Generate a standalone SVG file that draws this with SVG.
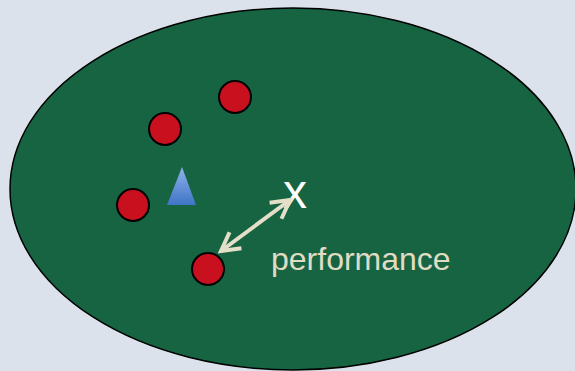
<svg xmlns="http://www.w3.org/2000/svg" width="575" height="371" viewBox="0 0 575 371">
<style>
.pt{fill:#c8101e;stroke:#000;stroke-width:2}
.lbl{font-family:"Liberation Sans",Arial,sans-serif}
</style>
<defs>
<linearGradient id="tg" x1="0" y1="0" x2="0" y2="1">
<stop offset="0" stop-color="#8fb4ea"/>
<stop offset="1" stop-color="#3f74c6"/>
</linearGradient>
<marker id="ah" viewBox="0 0 12 12" refX="10" refY="6" markerWidth="6" markerHeight="6" orient="auto-start-reverse" markerUnits="strokeWidth">
<path d="M1,1 L10,6 L1,11" fill="none" stroke="#e4dfc8" stroke-width="2"/>
</marker>
</defs>
<rect width="575" height="371" fill="#dce2ec"/>
<g id="region"><ellipse cx="293" cy="189" rx="283" ry="181" fill="#176443" stroke="#000" stroke-width="1.5"/></g>
<g id="p1"><circle class="pt" cx="235" cy="97" r="16"/></g>
<g id="p2"><circle class="pt" cx="165" cy="129" r="16"/></g>
<g id="p3"><circle class="pt" cx="133" cy="205" r="16"/></g>
<g id="p4"><circle class="pt" cx="208" cy="269" r="16"/></g>
<g id="query"><polygon points="182,167 167,205 196,205" fill="url(#tg)"/></g>
<g id="x"><text class="lbl" x="295" y="208" font-size="48" fill="#fff" text-anchor="middle">x</text></g>
<g id="connectors"><line x1="221" y1="251" x2="290" y2="200" stroke="#e4dfc8" stroke-width="4" marker-start="url(#ah)" marker-end="url(#ah)"/></g>
<g id="label"><text class="lbl" x="271" y="270" font-size="32" fill="#e0dcc4">performance</text></g>
</svg>
